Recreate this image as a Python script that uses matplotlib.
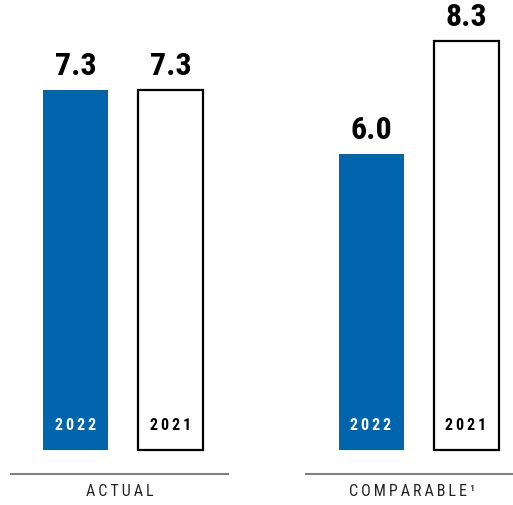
import matplotlib
matplotlib.use("Agg")
import matplotlib.pyplot as plt
from matplotlib import font_manager as fm

groups = ["ACTUAL", "COMPARABLE\u00b9"]
years = ["2022", "2021"]
values_2022 = [7.3, 6.0]
values_2021 = [7.3, 8.3]

names = {f.name for f in fm.fontManager.ttflist}
cond = None
for cand in ["DejaVu Sans Condensed", "Liberation Sans Narrow", "Roboto Condensed"]:
    if cand in names:
        cond = cand
        break

W, H = 513, 505
fig = plt.figure(figsize=(W / 100, H / 100), dpi=100)
ax = fig.add_axes([0, 0, 1, 1])
ax.set_xlim(0, W)
px = 49.3
ax.set_ylim(-55 / px, (H - 55) / px)
ax.axis("off")

blue = "#0065AD"
group_centers = [123, 418.5]
offset = 47.5
bw = 65

def fam(d):
    if cond:
        d["family"] = cond
    else:
        d["stretch"] = "condensed"
    return d

vfont = fam(dict(fontsize=23, fontweight="bold", color="black", ha="center", va="bottom"))
yfont = fam(dict(fontsize=11.5, fontweight="bold", ha="center", va="center"))
gfont = fam(dict(fontsize=11.5, color="#222222", ha="center", va="center"))

def spaced(s):
    return "\u2009".join(s)

for i, g in enumerate(groups):
    c = group_centers[i]
    x1, x2 = c - offset, c + offset
    ax.bar(x1, values_2022[i], width=bw, color=blue, edgecolor="none")
    ax.bar(x2, values_2021[i], width=bw, color="white", edgecolor="black", linewidth=1.6)
    ax.text(x1, values_2022[i] + 9 / px, f"{values_2022[i]:.1f}", **vfont)
    ax.text(x2, values_2021[i] + 9 / px, f"{values_2021[i]:.1f}", **vfont)
    ax.text(x1, 24 / px, spaced(years[0]), color="white", **yfont)
    ax.text(x2, 24 / px, spaced(years[1]), color="black", **yfont)

# baselines
ax.plot([10, 229], [-24 / px, -24 / px], color="#808080", lw=1.5, solid_capstyle="butt")
ax.plot([305, 513], [-24 / px, -24 / px], color="#808080", lw=1.5, solid_capstyle="butt")
ax.text(120, -42 / px, spaced(groups[0]), **gfont)
ax.text(412, -42 / px, spaced(groups[1]), **gfont)

fig.savefig("out.png", dpi=100)
